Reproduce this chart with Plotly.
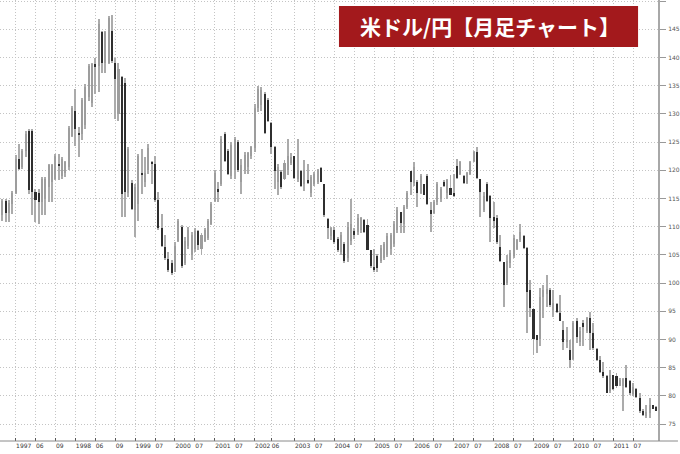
import plotly.graph_objects as go

# Monthly USD/JPY candles (bar index order)
opens = [112,114.5,112.5,114,116,122,120.5,123.5,127,126.9,116.1,116,114.4,115,117,118,118.5,121.2,119,119.5,
         120.5,126,130.6,126.6,126.5,128,133,132,138.8,138.5,144.5,139,139,144.7,139.1,130,136.5,135.5,116,117.8,
         113,114,119.6,118,120,121.5,121.2,114.7,109.7,106.4,104.3,103.5,102,107.5,110,103.5,106.5,105,106,109.2,
         106,107.5,108,110.5,114.5,116.6,117.5,126.5,123.5,119,120,125,118,120,120.5,122.5,124,131,131.5,133.5,
         132.5,128.4,124.2,118,119.7,118.5,120,121.3,122.5,118.5,119.8,117.5,118.2,116,117.5,118,120.4,117.5,111.4,108.3,
         109.4,107.9,105.5,107,104.5,107.5,109.3,109,109.5,111.2,110.25,105.8,102.9,104.8,104,104.5,105,106,107,109.5,
         112.6,110.5,113.5,119.8,117.8,118,116,117.5,119,112.9,112.5,114.3,115,118,116,116.8,115.9,120.8,119.3,119,
         117.8,119.4,121.6,123.2,118.4,113,117.6,115.5,111.8,111.5,106.4,103.8,100,103.5,104.8,106,107.6,108.3,106.2,98.7,
         95.4,90.8,90,97.5,98,98.8,95.3,96.3,94.7,91.7,89.5,88.2,86.5,93.2,89.5,93,91.5,93.8,91.2,88.4,
         86.4,84.2,83.5,80.8,83.7,83.5,81.8,81.8,83.1,82.6,80.3,81.2,79.6,77.4,76.5,77,78.3,78]
highs = [115,115,114.7,116.3,122.8,124.7,123.8,127,127.3,127.3,116.7,116.7,118.8,118.8,121.15,121.15,122.9,122.9,122.3,121.7,
         127.9,131.45,134.4,127.6,132.9,135.3,138.8,139.1,140,146.8,144.7,144.7,147.35,147.5,140,139.1,136.75,136.45,124.1,118.2,
         117.6,122.9,123.8,122.3,124.7,121.7,122.6,116.1,112.3,108.5,105.5,104.1,107.3,111.4,110.25,108.2,110,109.1,109.7,109.4,
         108.8,109.7,111.4,114.4,120,117.9,126.15,126.75,123.8,125,125.85,125.3,122,123.2,123.2,124.4,131.7,135,134.7,133.8,
         132.9,128.5,124.4,121.15,120,121.75,125.55,123,122.6,125.55,120,121.75,121.15,119.1,119.7,120.3,120.6,117.6,111.6,110,
         110,108.2,109.1,107.3,110.85,114.95,109.7,112.3,111.7,111.4,111.4,105.8,106.1,105.2,106.7,107.3,108.8,108.8,111.1,113.5,
         112.6,113.8,116.4,119.95,121.4,118.2,119.4,117.6,119.4,114.4,114.65,117.9,117,118.2,118.5,119.1,119.4,122,121.7,119.1,
         119.7,121.7,123.5,124.1,118.5,116.1,117.9,115.55,114.4,112,108.5,103.8,104.95,105.8,108.5,107.9,110.55,108.5,106.4,100.5,
         95.5,90.8,99.1,99.65,101.4,99.1,98.8,96.4,97.9,93.2,92.3,89.9,93.2,93.8,92.3,93.5,94.06,94.9,92.9,88.5,
         87,86,83.75,84.6,83.75,84,83.2,83.2,85.5,82.9,82.3,81.4,80.5,77.6,78.4,79.6,78.4,78.2]
lows = [111.1,110.8,110.8,112.3,115.8,120,120.3,122.3,115.8,112,110.8,110.5,112,112,114.4,114.4,118.2,118.2,118.5,118.8,
        120,125.85,124.4,122.3,125.3,127.3,132.3,131.15,133.5,133.8,137.3,137.3,138.8,139.1,129.1,128.8,111.7,111.7,115.25,112.9,
        108.2,111.1,115.8,117,119.4,117.6,114.4,109.4,106.4,104.1,102,101.4,102,107.3,102.6,103.2,106.1,104.1,105.5,105.8,
        105,107.3,107.6,110.25,114.4,114.4,117.3,121.4,119.1,118.5,118.5,119.7,115.8,119.4,119.4,122,123.2,130.3,130.6,126.45,
        128.5,122.9,116.7,115.55,116.7,118.2,119.1,121,118.5,117.9,117,116.4,117.6,115.25,117.3,117.6,117.9,111.7,107.9,107.6,
        107,105.5,104.95,103.5,103.8,106.7,107.9,108.5,108.8,108.8,105.8,102.6,102,102,103.5,104.1,104.65,104.95,106.4,108.8,
        108.8,108.8,113.2,115.55,117.3,113.5,115.85,115.55,113.8,109.1,112.3,113.8,114.4,117,114.95,115.55,115.25,118.5,119.1,117.6,
        117.6,119.1,121.4,118.5,111.7,112.6,114.4,107.3,109.7,107,103.8,95.8,99.65,102.6,104.4,105.8,107.3,106.1,91.1,94.06,
        87.3,87.6,88.8,93.76,95.8,95.8,94.06,94.65,93.2,88.2,88.5,84.9,86.4,89.35,88.8,88.8,91.1,88.2,88.2,86.1,
        84,83.2,80.5,80.6,81.1,81.4,81.7,77.3,81.4,80.2,79.9,79.6,77,76.4,76.1,76.1,77.6,77.3]
closes = [114.5,112.5,114.2,116,122,120.3,123.5,126.5,116.5,116.1,114.7,114.4,118.5,118.5,121,121,122.5,120.8,122,121.5,
          127.5,131,127.3,126.2,132.5,134.8,138.5,138.8,138.4,146,139,144.5,147,139.3,136.2,138,115.8,116.1,123.8,113.2,
          117,122.5,119.3,119.6,124,121.1,114.7,109.7,106.6,104.4,102.3,101.8,106.5,111,103,107.5,109.5,108.5,109.2,106.7,
          108.5,109.5,111,114,119.5,116.2,125.5,121.7,119.3,124.5,125.5,120,121,122.8,123,124.2,131,134.5,134.2,126.6,
          128.8,124.2,119.8,120.5,117,121.3,122.5,122.4,118.7,120,117.2,120,117.8,118.8,119.3,120,118,112,109.7,109.8,
          107.3,105.8,108.5,104,110,110.5,108.5,111.5,111.5,109,105.9,103,102.4,102.6,106.3,107,108.3,108.5,110.5,113,
          110.6,113.5,116,118,120.5,116,119,115.7,114,112.3,114.4,117.6,116.7,117.2,118.3,115.7,115.4,118.6,121.4,117.8,
          119.5,121.5,123.3,118.6,116.2,115.5,114.6,111.5,111.1,107.3,104,99.65,104,105.3,108,107.6,109,106.3,98.5,95.5,
          90,89.9,97.6,98.8,99,96.1,96.4,94.8,93.3,89.6,90,86.4,92.9,90.5,91.5,92.3,93.8,91.1,88.5,86.4,
          84.3,83.5,80.6,83.7,81.2,81.8,82.9,83,81.5,80.5,81.5,79.8,77.3,76.6,77.2,78.4,77.7,77.4]

tick_bars = [5,11,17,23,29,35,41,47,53,59,65,71,77,82,89,95,101,107,113,119,125,131,137,143,149,155,161,167,173,179,185,191]
tick_text = ['1997','06','09','1998','06','09','1999','07','2000','07','2001','07','2002','06','2003','07','2004','07',
             '2005','07','2006','07','2007','07','2008','07','2009','07','2010','07','2011','07']
title_text = '米ドル/円【月足チャート】'

n = len(opens)
xs = list(range(1, n + 1))
up = [c >= o for o, c in zip(opens, closes)]

wick_col = '#ababab'
up_col = '#9d9d9d'
dn_col = '#2f2f2f'

fig = go.Figure()
# wicks
fig.add_trace(go.Bar(x=xs, base=lows, y=[h - l for h, l in zip(highs, lows)], width=0.3,
                     marker=dict(color=wick_col, line=dict(width=0)), hoverinfo='skip', showlegend=False))
# bodies
fig.add_trace(go.Bar(x=xs, base=[min(o, c) for o, c in zip(opens, closes)],
                     y=[max(abs(c - o), 0.15) for o, c in zip(opens, closes)], width=0.62,
                     marker=dict(color=[up_col if u else dn_col for u in up], line=dict(width=0)),
                     showlegend=False))

grid = dict(gridcolor='#c4c4c4', gridwidth=1, griddash='1px,2px', showgrid=True, zeroline=False)

fig.update_layout(
    width=680, height=454, barmode='overlay', bargap=0,
    margin=dict(l=0, r=20, t=0, b=13),
    paper_bgcolor='white', plot_bgcolor='white',
    xaxis=dict(range=[0.31, 198.5], tickvals=tick_bars, ticktext=tick_text, tickangle=0,
               ticks='inside', ticklen=3, tickcolor='#555', tickwidth=1,
               ticklabelposition='outside right', ticklabelstandoff=0,
               tickfont=dict(family='DejaVu Sans', size=6, color='#333'),
               showline=False, **grid),
    yaxis=dict(side='right', range=[72, 150.2], dtick=5, tick0=75,
               ticks='outside', ticklen=6, tickcolor='#999', tickwidth=1,
               ticklabelstandoff=1,
               tickfont=dict(family='DejaVu Sans', size=6, color='#555'),
               showline=True, linecolor='#a8a8a8', linewidth=2, **grid),
    font=dict(family='DejaVu Sans'),
    shapes=[
        dict(type='line', xref='paper', yref='paper', x0=0, x1=680 / 660, y0=0, y1=0,
             line=dict(color='#8a8a8a', width=1)),
        dict(type='rect', xref='paper', yref='paper', x0=340 / 660, x1=640 / 660,
             y0=1 - 47 / 441, y1=1 - 6 / 441, fillcolor='#a3191c', line=dict(width=0), layer='above'),
    ],
    annotations=[
        dict(text='<b>' + title_text + '</b>', xref='paper', yref='paper', x=491 / 660, y=1 - 26.5 / 441,
             showarrow=False, xanchor='center', yanchor='middle',
             font=dict(family='Noto Sans CJK JP', size=21, color='white')),
    ],
)

fig.write_html('out.html', config={'displayModeBar': False},
               post_script="document.body.style.margin='0';document.body.style.overflow='hidden';")
